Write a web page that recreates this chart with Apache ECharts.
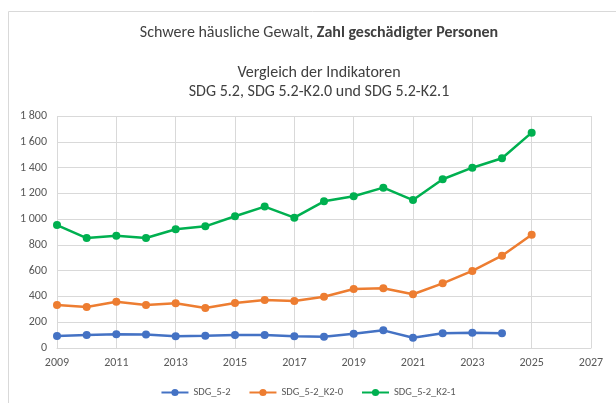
<!DOCTYPE html>
<html>
<head>
<meta charset="utf-8">
<script src="https://cdn.jsdelivr.net/npm/echarts@6/dist/echarts.min.js"></script>
<style>
  html, body { margin: 0; padding: 0; background: #fff; }
  #chart { width: 616px; height: 403px; }
</style>
</head>
<body>
<div id="chart"></div>
<script>
const years = [2009, 2010, 2011, 2012, 2013, 2014, 2015, 2016, 2017, 2018, 2019, 2020, 2021, 2022, 2023, 2024, 2025]
const sdg52 = [93, 101, 106, 104, 91, 95, 101, 101, 91, 88, 111, 137, 80, 114, 119, 114]
const sdg52K20 = [334, 318, 359, 334, 347, 310, 349, 372, 365, 398, 458, 463, 417, 502, 598, 716, 879]
const sdg52K21 = [954, 853, 871, 853, 921, 944, 1022, 1097, 1011, 1138, 1177, 1244, 1148, 1309, 1399, 1472, 1671]
const seriesNames = ['SDG_5-2', 'SDG_5-2_K2-0', 'SDG_5-2_K2-1']
const colors = ['#4472C4', '#ED7D31', '#00B050']

const font = 'Calibri, Carlito, "Liberation Sans", Arial, sans-serif'
const pair = arr => arr.map((v, i) => [years[i], v])

const chart = echarts.init(document.getElementById('chart'))
chart.setOption({
  animation: false,
  textStyle: { fontFamily: font },
  graphic: [{
    type: 'rect',
    shape: { x: 8.5, y: 11.5, width: 640, height: 420 },
    style: { fill: 'none', stroke: '#d9d9d9', lineWidth: 1 }
  }],
  title: [
    {
      text: 'Schwere häusliche Gewalt, {b|Zahl geschädigter Personen}',
      left: 314, textAlign: 'center', top: 20,
      textStyle: {
        fontSize: 16, fontWeight: 'normal', color: '#404040',
        rich: { b: { fontSize: 16, fontWeight: 'bold', color: '#404040' } }
      }
    },
    {
      text: 'Vergleich der Indikatoren\nSDG 5.2, SDG 5.2-K2.0 und SDG 5.2-K2.1',
      left: 314, textAlign: 'center', top: 58,
      textStyle: { fontSize: 16, fontWeight: 'normal', color: '#404040', lineHeight: 19 }
    }
  ],
  legend: {
    top: 382, left: 'center',
    itemWidth: 27, itemHeight: 9, itemGap: 18,
    textStyle: { color: '#595959', fontSize: 10.5 },
    data: seriesNames
  },
  grid: { left: 57, right: 25, top: 116, bottom: 55 },
  xAxis: {
    type: 'value', min: 2009, max: 2027, interval: 2,
    axisLine: { show: true, lineStyle: { color: '#d9d9d9' } },
    axisTick: { show: false },
    axisLabel: { color: '#595959', fontSize: 12, margin: 9, formatter: v => String(v) },
    splitLine: { show: true, lineStyle: { color: '#d9d9d9' } }
  },
  yAxis: {
    type: 'value', min: 0, max: 1800, interval: 200,
    axisLine: { show: false },
    axisTick: { show: false },
    axisLabel: {
      color: '#595959', fontSize: 12, margin: 10,
      formatter: v => String(v).replace(/\B(?=(\d{3})+(?!\d))/g, ' ')
    },
    splitLine: { lineStyle: { color: '#d9d9d9' } }
  },
  series: [sdg52, sdg52K20, sdg52K21].map((d, i) => ({
    name: seriesNames[i],
    type: 'line',
    data: pair(d),
    symbol: 'circle',
    symbolSize: 8,
    lineStyle: { width: 2.5, color: colors[i] },
    itemStyle: { color: colors[i] }
  }))
})
</script>
</body>
</html>
